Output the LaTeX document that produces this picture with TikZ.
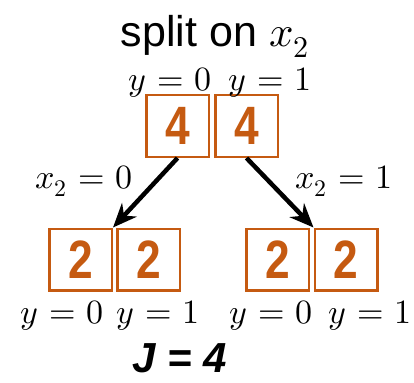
\documentclass[tikz,border=0pt]{standalone}
\usepackage{fontspec}
\usepackage{unicode-math}
\setmainfont{Liberation Sans}
\usetikzlibrary{arrows.meta}
\definecolor{burnt}{RGB}{197,90,17}
\thickmuskip=6mu plus 2mu\relax
\tikzset{
 cnt/.style={draw=burnt, line width=2.5pt, minimum width=62.5pt, minimum height=61.5pt, inner sep=0pt, text=burnt, font=\fontsize{54}{60}\selectfont\bfseries},
 lab/.style={font=\fontsize{34}{38}\selectfont, inner sep=0pt, anchor=base},
 arr/.style={line width=4.5pt, -{Stealth[length=24pt,width=20pt]}}
}
\begin{document}
\begin{tikzpicture}[x=1pt,y=-1pt]
\useasboundingbox (0,0) rectangle (414,382);
\node[inner sep=0pt, anchor=base, font=\fontsize{43}{48}\selectfont] (title) at (215,47) {split on $x_2$};
\node[cnt] (t0) at (177.5,126) {\scalebox{0.82}[1]{4}};
\node[cnt] (t1) at (246.5,126) {\scalebox{0.82}[1]{4}};
\node[lab] (ty0) at (170,91) {$y=0$};
\node[lab] (ty1) at (270,91) {$y=1$};
\node[cnt] (l0) at (80.5,259.5) {\scalebox{0.82}[1]{2}};
\node[cnt] (l1) at (148.5,259.5) {\scalebox{0.82}[1]{2}};
\node[cnt] (r0) at (277.5,259.5) {\scalebox{0.82}[1]{2}};
\node[cnt] (r1) at (346,259.5) {\scalebox{0.82}[1]{2}};
\node[lab] (ly0) at (62,323) {$y=0$};
\node[lab] (ly1) at (158,323) {$y=1$};
\node[lab] (ry0) at (271,323) {$y=0$};
\node[lab] (ry1) at (370,323) {$y=1$};
\node[lab] (xl) at (84,188) {$x_2=0$};
\node[lab] (xr) at (344,188) {$x_2=1$};
\draw[arr] (t0.south) -- (l0.north east);
\draw[arr] (t1.south) -- (r1.north west);
\node[inner sep=0pt, anchor=base, font=\fontsize{42}{48}\selectfont\bfseries\itshape] (J) at (180,372) {J = 4};
\end{tikzpicture}
\end{document}
